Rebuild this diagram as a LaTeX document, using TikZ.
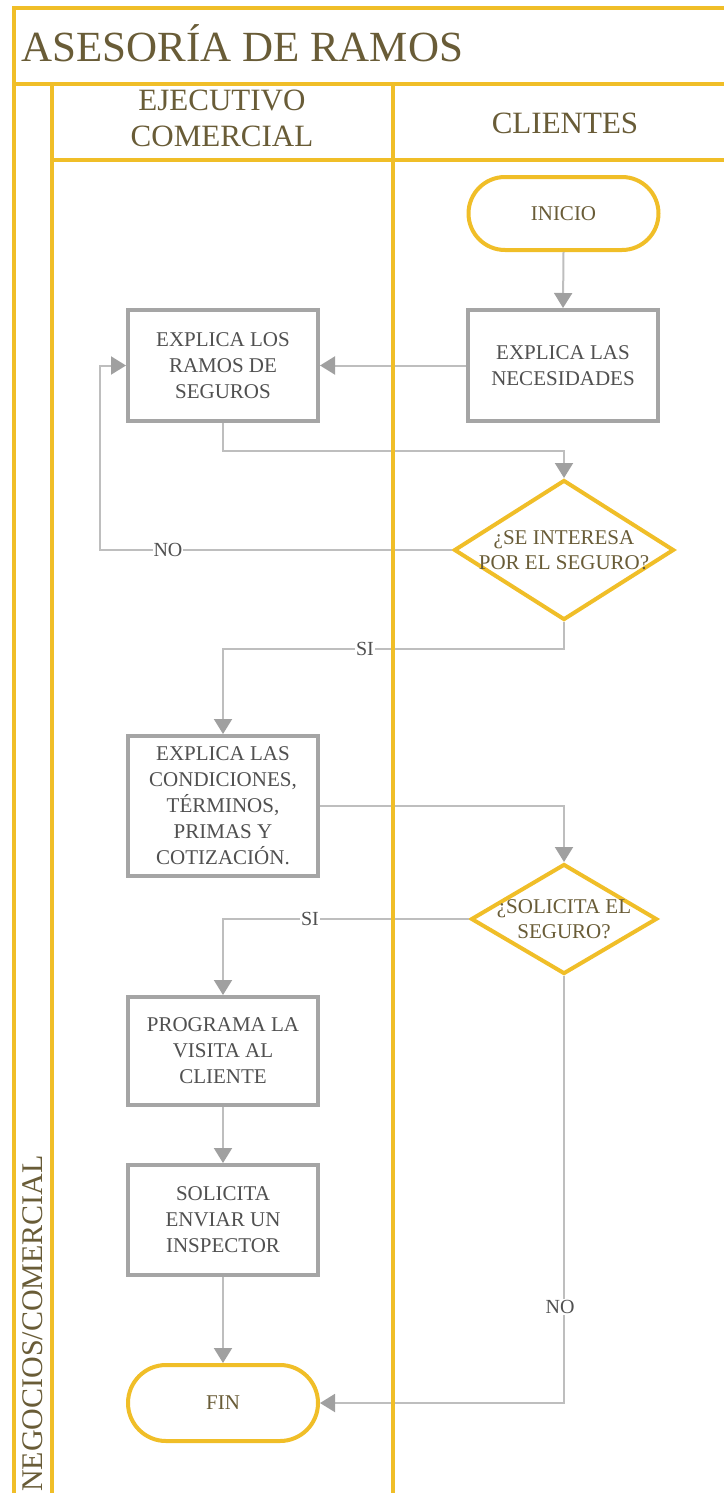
\documentclass[tikz,border=0pt]{standalone}
\usepackage{fontspec}
\setmainfont{Liberation Serif}
\usetikzlibrary{shapes.geometric,shapes.misc,arrows.meta}

\definecolor{lane}{RGB}{240,190,40}
\definecolor{boxgray}{RGB}{165,165,165}
\definecolor{linegray}{RGB}{190,190,190}
\definecolor{tipgray}{RGB}{160,160,160}
\definecolor{headtext}{RGB}{105,92,55}
\definecolor{bodytext}{RGB}{80,80,80}

\begin{document}
\begin{tikzpicture}[x=1pt,y=-1pt,
  lanerule/.style={draw=lane,line width=4pt},
  process/.style={rectangle,draw=boxgray,line width=4pt,fill=white,text=bodytext,
    align=center,font=\fontsize{21}{26}\selectfont,inner sep=0pt,minimum width=190pt},
  terminal/.style={rounded rectangle,draw=lane,line width=4pt,fill=white,text=headtext,
    font=\fontsize{21}{24}\selectfont,minimum width=190pt,inner sep=0pt},
  decision/.style={diamond,draw=lane,line width=4pt,fill=white,inner sep=0pt},
  decisiontext/.style={text=headtext,align=center,font=\fontsize{21}{25}\selectfont,inner sep=0pt},
  flowline/.style={draw=linegray,line width=2pt},
  flowarrow/.style={flowline,-{Triangle[width=18pt,length=15pt,color=tipgray]}},
  branchlabel/.style={fill=white,text=bodytext,font=\fontsize{20}{22}\selectfont,inner sep=1pt},
  lanetext/.style={text=headtext,inner sep=0pt},
]
\useasboundingbox (0,0) rectangle (723,1493);

% ---- flow nodes ----
\node[terminal,minimum height=73pt] (inicio) at (563.5,213.5) {INICIO};
\node[process,minimum height=111pt] (nec) at (563,365.5) {EXPLICA LAS\\NECESIDADES};
\node[process,minimum height=111pt] (ramos) at (223,365.5) {EXPLICA LOS\\RAMOS DE\\SEGUROS};
\node[decision,minimum width=220pt,minimum height=140pt] (d1) at (564,550) {};
\node[decisiontext] (d1t) at (d1) {¿SE INTERESA\\POR EL SEGURO?};
\node[process,minimum height=140pt] (cond) at (223,806) {EXPLICA LAS\\CONDICIONES,\\TÉRMINOS,\\PRIMAS Y\\COTIZACIÓN.};
\node[decision,minimum width=186pt,minimum height=110pt] (d2) at (564,919) {};
\node[decisiontext] (d2t) at (d2) {¿SOLICITA EL\\SEGURO?};
\node[process,minimum height=108pt] (prog) at (223,1051) {PROGRAMA LA\\VISITA AL\\CLIENTE};
\node[process,minimum height=110pt] (insp) at (223,1220) {SOLICITA\\ENVIAR UN\\INSPECTOR};
\node[terminal,minimum height=76pt] (fin) at (223,1403) {FIN};

% ---- bend points ----
\coordinate (k1) at (564,451);
\coordinate (k2) at (100,550);
\coordinate (k3) at (564,649);

% ---- connectors ----
\draw[flowarrow] (inicio.south) -- (nec.north);
\draw[flowarrow] (nec.west) -- (ramos.east);
\draw[flowarrow] (ramos.south) |- (k1) -- (d1.north);
\draw[flowarrow] (d1.west) -- (k2) |- (ramos.west);
\draw[flowarrow] (d1.south) -- (k3) -| (cond.north);
\draw[flowarrow] (cond.east) -| (d2.north);
\draw[flowarrow] (d2.west) -| (prog.north);
\draw[flowarrow] (prog.south) -- (insp.north);
\draw[flowarrow] (insp.south) -- (fin.north);
\draw[flowarrow] (d2.south) |- (fin.east);

% ---- branch labels ----
\node[branchlabel] (no1) at (168,550) {NO};
\node[branchlabel] (si1) at (365,649) {SI};
\node[branchlabel] (si2) at (310,919) {SI};
\node[branchlabel] (no2) at (560,1307) {NO};

% ---- pool and lanes ----
\draw[lanerule] (730,8) -- (14,8) -- (14,1500);
\draw[lanerule] (14,84) -- (730,84);
\draw[lanerule] (52,84) -- (52,1500);
\draw[lanerule] (393,84) -- (393,1500);
\draw[lanerule] (52,160) -- (730,160);
\draw[lanerule] (14,1494.5) -- (730,1494.5);

\node[lanetext,anchor=base west,font=\fontsize{43}{43}\selectfont] (pool) at (21,62) {ASESORÍA DE RAMOS};
\node[lanetext,anchor=base west,rotate=90,font=\fontsize{30}{30}\selectfont] (dept) at (42,1492) {NEGOCIOS/COMERCIAL};
\node[lanetext,anchor=north,align=center,font=\fontsize{31}{36}\selectfont] (lane1) at (222,90) {EJECUTIVO\\COMERCIAL};
\node[lanetext,anchor=base,font=\fontsize{31}{36}\selectfont] (lane2) at (565,133) {CLIENTES};
\end{tikzpicture}
\end{document}
